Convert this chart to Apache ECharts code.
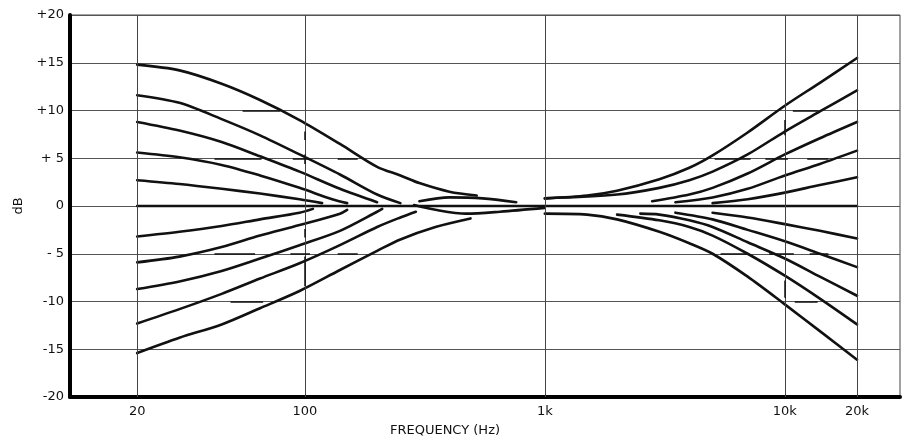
<!DOCTYPE html>
<html><head><meta charset="utf-8">
<script src="https://cdn.jsdelivr.net/npm/echarts@6/dist/echarts.min.js"></script>
<style>html,body{margin:0;padding:0;background:#fff}#c{width:908px;height:442px}</style>
</head><body><div id="c"></div>
<script>
// ---- axis ticks ----
const xTickFreqs = [20, 100, 1000, 10000, 20000];
const xTickLabels = ['20', '100', '1k', '10k', '20k'];
const yTickValues = [20, 15, 10, 5, 0, -5, -10, -15, -20];
const yTickLabels = ['+20', '+15', '+10', '+ 5', '0', '- 5', '-10', '-15', '-20'];

// ---- curves: [frequency Hz, level dB] ----
const flatLine = [[20, 0], [20000, 0]];
const bassBoost15 = [[20,14.8],[30,14.2],[45,12.8],[65,11.1],[95,9.0],[140,6.5],[200,4.1],[250,3.2],[300,2.4],[400,1.5],[520,1.1]];
const bassBoost12 = [[20,11.6],[30,10.8],[45,9.1],[65,7.4],[95,5.4],[140,3.3],[200,1.2],[250,0.3]];
const bassBoost9  = [[20,8.8],[30,7.9],[45,6.7],[65,5.2],[95,3.6],[140,1.8],[200,0.4]];
const bassBoost6  = [[20,5.6],[30,5.1],[45,4.3],[65,3.2],[95,1.9],[130,0.7],[150,0.3]];
const bassBoost3  = [[20,2.7],[30,2.3],[45,1.8],[65,1.3],[95,0.7],[118,0.3]];
const bassCut3    = [[20,-3.2],[30,-2.7],[45,-2.1],[65,-1.4],[95,-0.7],[108,-0.3]];
const bassCut6    = [[20,-5.9],[30,-5.3],[45,-4.3],[65,-3.1],[95,-2.0],[140,-0.8],[150,-0.4]];
const bassCut9    = [[20,-8.7],[30,-7.9],[45,-6.8],[65,-5.5],[95,-4.1],[140,-2.6],[200,-0.6],[210,-0.3]];
const bassCut12   = [[20,-12.3],[30,-10.8],[45,-9.2],[65,-7.6],[95,-6.0],[140,-4.1],[200,-2.2],[250,-1.2],[290,-0.6]];
const bassCut15   = [[20,-15.4],[30,-13.8],[45,-12.4],[65,-10.7],[95,-8.9],[140,-6.7],[200,-4.7],[250,-3.5],[350,-2.2],[490,-1.3]];
const midUpper    = [[300,0.5],[400,0.9],[550,0.8],[760,0.4]];
const midLower    = [[285,0.1],[350,-0.4],[470,-0.8],[650,-0.6],[1000,-0.2]];
const trebleBoost15 = [[1000,0.8],[1500,1.1],[2000,1.6],[3000,2.8],[4000,4.0],[5000,5.3],[7000,7.7],[10000,10.5],[14000,12.9],[20000,15.5]];
const trebleBoost12 = [[1000,0.8],[2000,1.2],[3000,1.9],[4000,2.7],[5000,3.6],[7000,5.4],[10000,7.8],[14000,9.9],[20000,12.1]];
const trebleBoost9  = [[2800,0.5],[4000,1.2],[5000,1.9],[7000,3.4],[10000,5.4],[14000,7.1],[20000,8.8]];
const trebleBoost6  = [[3500,0.4],[5000,0.9],[7000,1.8],[10000,3.2],[14000,4.4],[20000,5.8]];
const trebleBoost3  = [[5000,0.3],[7000,0.7],[10000,1.4],[14000,2.2],[20000,3.0]];
const trebleCut3    = [[5000,-0.7],[7000,-1.2],[10000,-1.9],[14000,-2.6],[20000,-3.4]];
const trebleCut6    = [[3500,-0.7],[5000,-1.4],[7000,-2.5],[10000,-3.7],[14000,-5.0],[20000,-6.4]];
const trebleCut9    = [[2500,-0.8],[3000,-0.9],[4000,-1.5],[5000,-2.2],[7000,-3.8],[10000,-5.5],[14000,-7.4],[20000,-9.4]];
const trebleCut12   = [[2000,-0.9],[3000,-1.5],[4000,-2.2],[5000,-3.1],[7000,-5.0],[10000,-7.3],[14000,-9.7],[20000,-12.4]];
const trebleCut15   = [[1000,-0.8],[1500,-0.9],[2000,-1.4],[3000,-2.7],[4000,-3.9],[5000,-5.0],[7000,-7.4],[10000,-10.3],[14000,-13.1],[20000,-16.1]];

// ---- short reference dashes drawn on the chart: [f1, dB1, f2, dB2] ----
const refDashes = [
  [55,10,79,10],[42,5,66,5],[89,5,105,5],[137,5,166,5],[100,7.8,100,6.9],[100,5.4,100,4.4],
  [42,-5,62,-5],[87,-5,105,-5],[137,-5,166,-5],[100,-2.4,100,-3.3],[100,-5.3,100,-8.4],[49,-10,67,-10],
  [10800,10,13700,10],[10000,9.0,10000,7.4],[5100,5,7200,5],[8300,5,10300,5],[12400,5,15200,5],
  [5400,-5,6900,-5],[8600,-5,10900,-5],[12700,-5,15200,-5],[10000,-7.8,10000,-9.6],[11000,-10,13700,-10]
];

const lg = f => Math.log10(f);
const toXY = arr => arr.map(p => [lg(p[0]), p[1]]);
const curves = [flatLine, bassBoost15, bassBoost12, bassBoost9, bassBoost6, bassBoost3,
  bassCut3, bassCut6, bassCut9, bassCut12, bassCut15, midUpper, midLower,
  trebleBoost15, trebleBoost12, trebleBoost9, trebleBoost6, trebleBoost3,
  trebleCut3, trebleCut6, trebleCut9, trebleCut12, trebleCut15];

const series = curves.map(c => ({
  type: 'line', data: toXY(c), smooth: 0.3,
  showSymbol: false, symbol: 'none', silent: true, z: 3,
  lineStyle: { color: '#111', width: 2.6, join: 'round', cap: 'round' }
}));

series.push({
  type: 'line', data: [[lg(20), 0]], showSymbol: false, symbol: 'none', silent: true,
  lineStyle: { width: 0 },
  markLine: {
    silent: true, symbol: 'none', animation: false, label: { show: false },
    lineStyle: { color: '#444', width: 1, type: 'solid' },
    data: xTickFreqs.map(f => ({ xAxis: lg(f) }))
  }
});
series.push({
  type: 'line', data: [[lg(20), 0]], showSymbol: false, symbol: 'none', silent: true,
  lineStyle: { width: 0 },
  markLine: {
    silent: true, symbol: 'none', animation: false, label: { show: false },
    lineStyle: { color: '#111', width: 1.5, type: 'solid' },
    data: refDashes.map(d => [{ coord: [lg(d[0]), d[1]] }, { coord: [lg(d[2]), d[3]] }])
  }
});

const chart = echarts.init(document.getElementById('c'), null, { renderer: 'canvas' });
chart.setOption({
  animation: false,
  backgroundColor: '#fff',
  grid: { left: 70, right: 8, top: 15, bottom: 43, show: true, borderColor: '#444', borderWidth: 1 },
  xAxis: {
    type: 'value', min: lg(10.5), max: lg(30200),
    axisLine: { show: true, onZero: false, lineStyle: { color: '#000', width: 4 } },
    axisTick: { show: false }, splitLine: { show: false },
    axisLabel: {
      customValues: xTickFreqs.map(lg),
      formatter: v => { const i = xTickFreqs.findIndex(f => Math.abs(lg(f) - v) < 1e-6); return i >= 0 ? xTickLabels[i] : ''; },
      color: '#111', fontSize: 13, margin: 8, fontFamily: 'DejaVu Sans'
    },
    name: 'FREQUENCY (Hz)', nameLocation: 'middle', nameGap: 27,
    nameTextStyle: { color: '#111', fontSize: 13, fontFamily: 'DejaVu Sans', padding: [0, 80, 0, 0] }
  },
  yAxis: {
    type: 'value', min: -20, max: 20, interval: 5,
    axisLine: { show: true, lineStyle: { color: '#000', width: 4 } },
    axisTick: { show: false },
    splitLine: { show: true, lineStyle: { color: '#555', width: 1 } },
    axisLabel: {
      formatter: v => { const i = yTickValues.indexOf(v); return i >= 0 ? yTickLabels[i] : ''; },
      color: '#111', fontSize: 13, margin: 6, fontFamily: 'DejaVu Sans'
    },
    name: 'dB', nameLocation: 'middle', nameRotate: 90, nameGap: 45,
    nameTextStyle: { color: '#111', fontSize: 13, fontFamily: 'DejaVu Sans' }
  },
  series
});
</script></body></html>
